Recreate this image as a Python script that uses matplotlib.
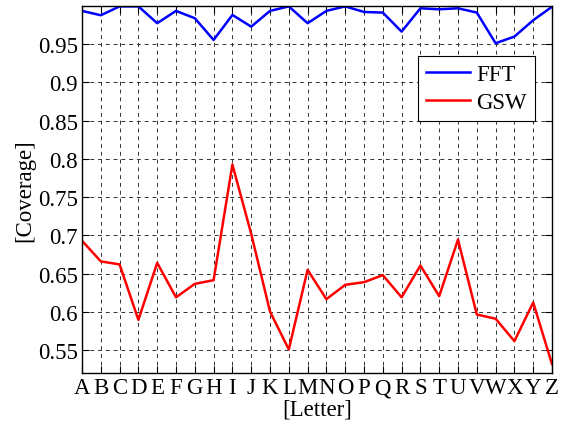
import numpy as np
import matplotlib
matplotlib.use('Agg')
import matplotlib.pyplot as plt

letters = list('ABCDEFGHIJKLMNOPQRSTUVWXYZ')

fft = [0.9936, 0.9879, 0.9995, 0.9995, 0.9775, 0.9936, 0.9840, 0.9556, 0.9883, 0.9730,
       0.9936, 0.9995, 0.9775, 0.9936, 0.9995, 0.9922, 0.9914, 0.9665, 0.9970, 0.9957,
       0.9970, 0.9914, 0.9513, 0.9600, 0.9814, 0.9990]

gsw = [0.693, 0.666, 0.662, 0.5895, 0.664, 0.619, 0.6366, 0.6414, 0.7926, 0.702,
       0.6004, 0.5508, 0.6549, 0.6166, 0.6353, 0.6388, 0.648, 0.619, 0.6606, 0.6205,
       0.6945, 0.5965, 0.591, 0.5617, 0.6122, 0.5316]

yticks = [0.55, 0.6, 0.65, 0.7, 0.75, 0.8, 0.85, 0.9, 0.95]
ytick_labels = ['0.55', '0.6', '0.65', '0.7', '0.75', '0.8', '0.85', '0.9', '0.95']

plt.rcParams['font.family'] = ['Liberation Serif', 'DejaVu Serif']
plt.rcParams['font.size'] = 16.5

fig = plt.figure(figsize=(5.61, 4.31), dpi=100)
ax = fig.add_axes([82/561, 1-374/431, 470/561, 367/431])

x = np.arange(len(letters))
ax.plot(x, fft, color='blue', linewidth=1.8, label='FFT')
ax.plot(x, gsw, color='red', linewidth=1.8, label='GSW')

ax.set_xlim(0, len(letters)-1)
ax.set_ylim(0.52, 1.0)
ax.set_xticks(x)
ax.set_xticklabels(letters)
ax.set_yticks(yticks)
ax.set_yticklabels(ytick_labels)

ax.grid(True, color='#333333', linestyle=(0, (4, 4)), linewidth=0.7)
ax.tick_params(direction='in', top=True, right=True, length=5, width=0.8, pad=3)
for s in ax.spines.values():
    s.set_linewidth(1.0)

ax.set_xlabel('[Letter]', labelpad=0)
ax.set_ylabel('[Coverage]', labelpad=2)

leg = ax.legend(loc='upper right', bbox_to_anchor=(0.964, 0.864), fancybox=False,
                framealpha=1, edgecolor='black', handlelength=1.9,
                borderaxespad=0, borderpad=0.35, labelspacing=0.3, handletextpad=0.3)
leg.get_frame().set_linewidth(0.8)

fig.savefig('out.png', dpi=100)
